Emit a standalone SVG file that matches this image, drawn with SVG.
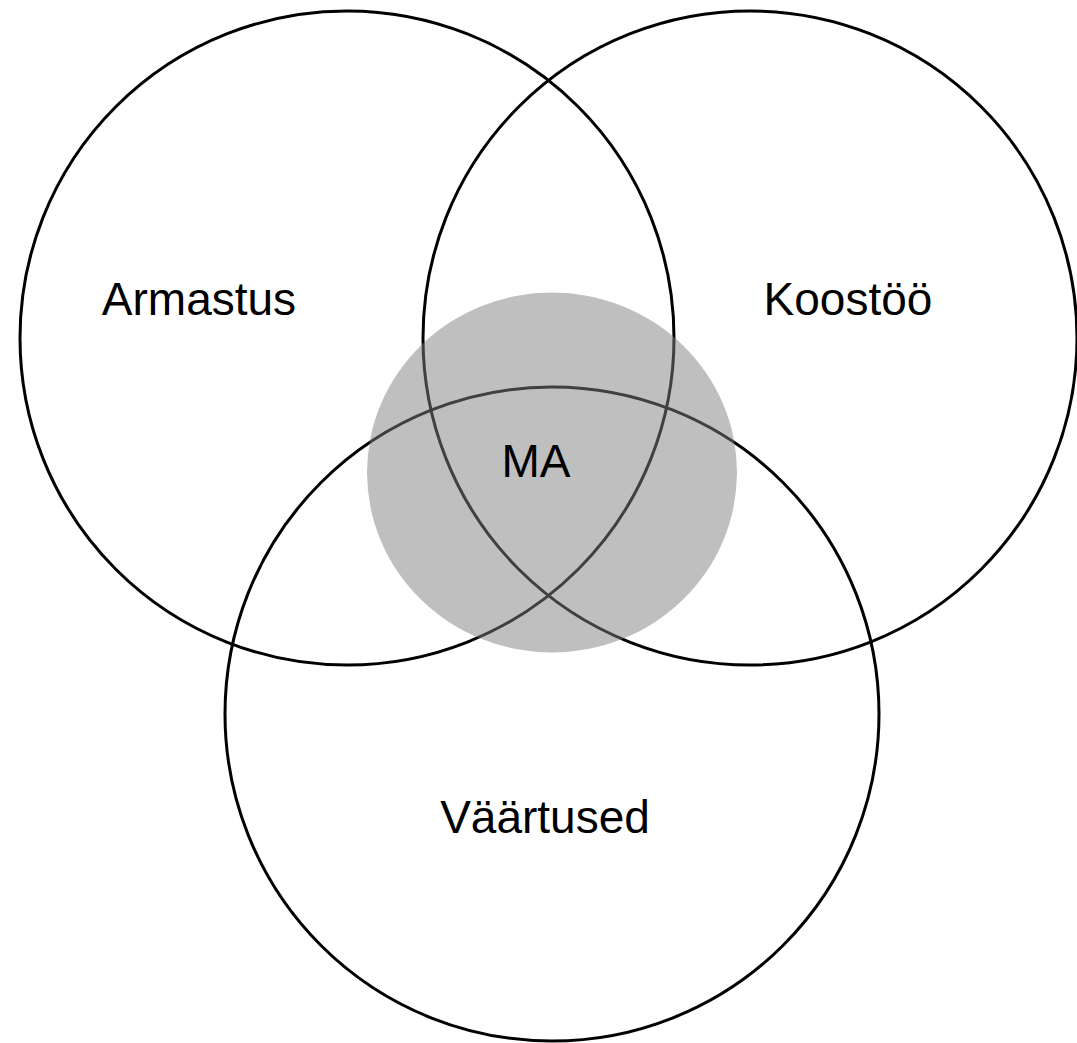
<svg xmlns="http://www.w3.org/2000/svg" width="1077" height="1043" viewBox="0 0 1077 1043">
<style>
.ring{fill:none;stroke:#000;stroke-width:3}
.lbl{font-family:"Liberation Sans",Arial,sans-serif;font-size:46px;fill:#000;text-anchor:middle}
</style>
<rect width="1077" height="1043" fill="#fff"/>
<g id="armastus"><circle class="ring" cx="347" cy="338" r="327"/><text class="lbl" x="199" y="315">Armastus</text></g>
<g id="koostoo"><circle class="ring" cx="750" cy="338" r="327"/><text class="lbl" x="848" y="315">Koostöö</text></g>
<g id="vaartused"><circle class="ring" cx="552" cy="714" r="327"/><text class="lbl" x="545" y="833">Väärtused</text></g>
<g id="ma"><ellipse cx="552" cy="472.5" rx="185" ry="180" fill="#808080" fill-opacity="0.5"/><text class="lbl" x="536" y="477">MA</text></g>
</svg>
